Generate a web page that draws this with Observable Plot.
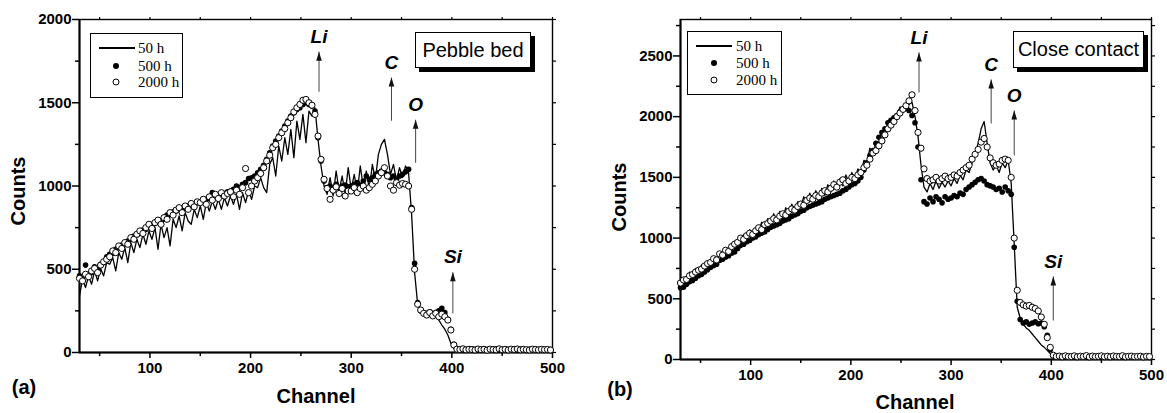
<!DOCTYPE html>
<html><head><meta charset="utf-8">
<script src="https://cdn.jsdelivr.net/npm/d3@7"></script>
<script src="https://cdn.jsdelivr.net/npm/@observablehq/plot@0.6"></script>
<style>
body{margin:0;background:#fff;}
#wrap{position:relative;width:1167px;height:413px;overflow:hidden;background:#fff;font-family:'Liberation Sans',Arial,sans-serif;color:#000;}
.panel{position:absolute;top:0;}
.lab{position:absolute;font-weight:bold;font-size:20px;line-height:20px;white-space:nowrap;transform:translate(-50%,-50%);}
.rot{transform:translate(-50%,-50%) rotate(-90deg);}
.box{position:absolute;border:1px solid #000;background:#fff;box-sizing:border-box;}
.shadow{position:absolute;background:#000;}
.legtxt{position:absolute;font-family:'Liberation Serif','Times New Roman',serif;font-size:15px;line-height:15px;transform:translateY(-50%);white-space:nowrap;}
.sym{position:absolute;box-sizing:border-box;border-radius:50%;transform:translate(-50%,-50%);}
.tag{position:absolute;border:1px solid #000;background:#fff;box-sizing:border-box;display:flex;align-items:center;justify-content:center;font-size:20px;white-space:nowrap;}
</style>
</head><body>
<div id="wrap"></div>
<script>
// ---------- data ----------
const channel = [30,33,36,39,42,45,48,51,54,57,
60,63,66,69,72,75,78,81,84,87,
90,93,96,99,102,105,108,111,114,117,
120,123,126,129,132,135,138,141,144,147,
150,153,156,159,162,165,168,171,174,177,
180,183,186,189,192,195,198,201,204,207,
210,213,216,219,222,225,228,231,234,237,
240,243,246,249,252,255,258,261,264,267,
270,273,276,279,282,285,288,291,294,297,
300,303,306,309,312,315,318,321,324,327,
330,333,336,339,342,345,348,351,354,357,
360,363,366,369,372,375,378,381,384,387,
390,393,396,399,402,405,408,411,414,417,
420,423,426,429,432,435,438,441,444,447,
450,453,456,459,462,465,468,471,474,477,
480,483,486,489,492,495,498];

// Panel (a) Pebble bed
const a50h = [340,440,390,460,410,490,430,505,460,540,
530,570,490,600,560,630,540,660,600,680,
630,710,650,730,680,750,620,770,690,750,
640,800,750,820,730,840,790,770,860,810,
880,800,900,850,910,860,920,860,930,880,
940,890,950,860,960,900,970,920,1000,990,
1050,990,960,1130,1170,1060,1240,1150,1290,1190,
1340,1170,1390,1280,1430,1260,1450,1420,1470,1280,
1120,1000,950,1050,940,1090,970,1060,950,1110,
980,1070,960,1120,990,1090,980,1130,1040,1190,
1250,1280,1190,1070,1130,1030,1110,1050,1120,1080,
830,480,290,245,230,210,220,205,215,195,
165,140,105,55,25,20,18,24,15,20,
16,22,14,19,25,13,20,17,23,15,
19,14,21,18,24,12,20,16,22,17,
14,21,18,15,20,19,16];
const a500h = [460,445,525,470,480,515,500,530,540,575,
590,595,620,630,645,650,670,680,700,705,
720,735,740,760,770,775,785,790,800,825,
830,845,850,860,865,870,880,885,890,900,
905,915,920,925,960,935,940,950,955,965,
970,980,1000,990,1010,1020,1045,1050,1060,1080,
1100,1125,1160,1200,1240,1270,1300,1330,1360,1390,
1420,1440,1460,1470,1490,1500,1490,1480,1450,1290,
1150,1030,990,1000,985,1010,990,1000,1005,995,
1000,1010,1020,1005,1030,1060,1040,1050,1070,1080,
1090,1080,1070,1050,1060,1040,1060,1070,1085,1100,
870,535,300,250,240,235,245,230,240,250,
265,240,200,140,50,22,18,20,17,19,
20,17,19,16,21,18,15,19,20,17,
16,20,18,17,19,15,21,18,16,19,
17,20,18,16,19,17,18];
const a2000h = [445,430,470,455,490,505,480,525,545,560,
575,610,600,640,625,660,650,690,680,710,
730,715,750,770,745,780,795,770,810,800,
840,825,855,870,840,880,860,895,875,905,
900,920,890,935,915,950,925,960,940,955,
965,935,975,950,990,1105,960,1000,1030,1050,
1075,1110,1150,1185,1230,1250,1290,1320,1345,1380,
1410,1445,1470,1490,1515,1520,1500,1485,1430,1300,
1160,1040,985,920,975,995,955,985,940,970,
970,990,960,985,1000,975,990,1010,1030,1060,
1080,1110,1060,1000,975,1020,1005,1015,1010,1000,
860,500,290,255,235,225,240,220,235,215,
230,215,195,135,45,20,18,22,16,19,
18,15,21,17,19,14,20,18,16,22,
17,19,15,20,18,21,16,19,17,15,
20,18,16,19,17,18,15];

// Panel (b) Close contact
const b50h = [610,670,640,720,680,750,720,780,750,810,
780,850,800,880,840,910,870,940,900,970,
960,1030,980,1070,1010,1090,1050,1130,1080,1160,
1110,1200,1140,1220,1160,1250,1200,1280,1220,1300,
1250,1340,1290,1370,1300,1390,1330,1410,1350,1440,
1380,1470,1410,1490,1430,1520,1460,1540,1480,1570,
1530,1640,1620,1740,1690,1790,1790,1870,1860,1950,
1940,2010,2000,2080,2040,2110,2100,2120,2000,1840,
1600,1420,1380,1450,1400,1470,1410,1460,1420,1470,
1430,1490,1450,1520,1480,1560,1540,1620,1700,1780,
1900,1960,1780,1620,1560,1600,1540,1620,1580,1640,
1450,950,430,340,290,260,240,210,180,150,
120,100,75,50,25,22,20,25,22,20,
20,28,18,25,22,30,17,26,21,24,
29,19,23,27,18,25,22,28,19,24,
26,20,23,25,18,22,20];
const b500h = [590,595,620,640,650,670,690,700,720,740,
760,775,785,815,825,845,855,875,885,915,
940,950,970,980,1000,1010,1030,1040,1050,1070,
1090,1100,1110,1120,1140,1150,1160,1180,1190,1200,
1220,1230,1250,1260,1270,1280,1290,1300,1320,1330,
1340,1350,1360,1370,1390,1400,1420,1440,1450,1470,
1500,1560,1620,1680,1720,1780,1830,1870,1900,1950,
1970,1990,2010,2040,2060,2070,2050,2010,1950,1750,
1480,1300,1280,1330,1300,1340,1320,1290,1340,1320,
1330,1350,1340,1370,1360,1400,1420,1440,1460,1480,
1490,1470,1440,1430,1420,1400,1410,1380,1420,1390,
1360,925,480,330,300,310,290,300,310,295,
300,270,200,80,30,22,25,20,24,22,
22,26,20,24,23,27,19,25,22,24,
26,21,24,20,25,23,22,27,20,23,
25,21,23,24,20,22,21];
const b2000h = [630,655,660,690,700,720,735,745,770,790,
800,830,820,870,860,900,890,930,950,965,
1000,990,1020,1040,1030,1060,1085,1070,1110,1120,
1140,1160,1150,1180,1200,1190,1220,1240,1230,1260,
1280,1270,1310,1330,1320,1350,1340,1370,1390,1380,
1410,1440,1420,1460,1480,1450,1470,1500,1490,1520,
1540,1580,1600,1650,1700,1720,1760,1800,1850,1900,
1930,1960,2000,2030,2060,2090,2130,2180,2050,1870,
1740,1570,1490,1470,1480,1500,1470,1490,1510,1490,
1500,1520,1510,1540,1560,1580,1600,1650,1690,1730,
1790,1820,1750,1660,1620,1600,1610,1640,1650,1640,
1500,1000,570,470,450,440,445,430,420,400,
350,290,180,100,35,25,28,22,30,24,
24,30,22,27,25,32,21,28,24,26,
30,23,27,22,29,25,24,31,22,26,
28,23,25,27,21,26,24];

// Axis ticks
const xMajor = [100,200,300,400,500];
const xMinor = [50,150,250,350,450];
const xTop = [50,100,150,200,250,300,350,400,450,500];
const yMajorA = [0,500,1000,1500,2000];
const yMinorA = [250,750,1250,1750];
const yMajorB = [0,500,1000,1500,2000,2500];
const yMinorB = [250,750,1250,1750,2250,2750];

// Peak annotations
const peakLabels = ["Li","C","O","Si"];
const peakChA = [268,340,364,401];
const peakBaseA = [1566,1392,1139,235];
const peakTipA = [1807,1651,1398,482];
const peakChB = [268,340,363,402];
const peakBaseB = [2199,1944,1680,321];
const peakTipB = [2529,2306,2051,684];

const legendLabels = ["50 h","500 h","2000 h"];

// ---------- drawing ----------
const FONT = "'Liberation Sans', Arial, sans-serif";
const headSymbol = {draw(ctx){ ctx.moveTo(0,0); ctx.lineTo(2.8,9); ctx.lineTo(-2.8,9); ctx.closePath(); }};

function makePanel(o){
  const rows = channel.map((c,i)=>({ch:c, l:o.line[i], d:o.dots[i], c2:o.circles[i]}));
  const peaks = peakLabels.map((t,i)=>({t, ch:o.pch[i], y1:o.pbase[i], y2:o.ptip[i]}));
  const yR = o.yMajor.concat(o.yMinor);
  return Plot.plot({
    width:o.width, height:413,
    marginLeft:o.ml, marginRight:o.mr, marginTop:o.mt, marginBottom:o.mb,
    x:{domain:[30,500]},
    y:{domain:[0,o.ymax]},
    style:{fontFamily:FONT, fontSize:"15px", fontWeight:"bold", color:"black", background:"transparent", overflow:"visible"},
    marks:[
      Plot.axisX({ticks:xMajor, tickSize:6, tickPadding:4, tickFormat:"d", label:null, strokeWidth:1.5}),
      Plot.axisX({ticks:xMinor, tickSize:4, fill:"none", label:null, strokeWidth:1.5}),
      Plot.axisX({anchor:"top", ticks:xTop, tickSize:3, fill:"none", label:null, strokeWidth:1.2}),
      Plot.axisY({ticks:o.yMajor, tickSize:7, tickPadding:1, tickFormat:"d", label:null, strokeWidth:1.5}),
      Plot.axisY({ticks:o.yMinor, tickSize:4, fill:"none", label:null, strokeWidth:1.5}),
      Plot.axisY({anchor:"right", ticks:yR, tickSize:3, fill:"none", label:null, strokeWidth:1.2}),
      Plot.frame({stroke:"black", strokeWidth:1.4}),
      Plot.ruleX([30], {stroke:"black", strokeWidth:2}),
      Plot.ruleY([0], {stroke:"black", strokeWidth:2}),
      Plot.line(rows, {x:"ch", y:"l", stroke:"black", strokeWidth:1.3}),
      Plot.dot(rows, {x:"ch", y:"d", r:2.8, fill:"black"}),
      Plot.dot(rows, {x:"ch", y:"c2", r:3.1, fill:"white", stroke:"black", strokeWidth:1}),
      Plot.link(peaks, {x1:"ch", x2:"ch", y1:"y1", y2:"y2", stroke:"#444", strokeWidth:1}),
      Plot.dot(peaks, {x:"ch", y:"y2", symbol:headSymbol, fill:"#111", stroke:"none"}),
      Plot.text(peaks, {x:"ch", y:"y2", text:"t", dy:-15, fontSize:19, fontStyle:"italic", fontWeight:"bold", fill:"black"})
    ]
  });
}

const wrap = document.getElementById("wrap");

const pa = makePanel({width:590, ml:79, mr:38, mt:19, mb:61, ymax:2000,
  yMajor:yMajorA, yMinor:yMinorA, line:a50h, dots:a500h, circles:a2000h,
  pch:peakChA, pbase:peakBaseA, ptip:peakTipA});
pa.classList.add("panel"); pa.style.left = "0px";
wrap.appendChild(pa);

const pb = makePanel({width:577, ml:90, mr:16, mt:19, mb:54, ymax:2800,
  yMajor:yMajorB, yMinor:yMinorB, line:b50h, dots:b500h, circles:b2000h,
  pch:peakChB, pbase:peakBaseB, ptip:peakTipB});
pb.classList.add("panel"); pb.style.left = "590px";
wrap.appendChild(pb);

function el(cls, css, text){
  const d = document.createElement("div");
  d.className = cls;
  Object.assign(d.style, css);
  if (text != null) d.textContent = text;
  wrap.appendChild(d);
  return d;
}

// axis titles and panel letters
el("lab rot", {left:"18px", top:"191px"}, "Counts");
el("lab rot", {left:"619px", top:"197px"}, "Counts");
el("lab", {left:"316px", top:"396px"}, "Channel");
el("lab", {left:"915px", top:"402px"}, "Channel");
el("lab", {left:"24px", top:"387px"}, "(a)");
el("lab", {left:"620px", top:"389px"}, "(b)");

// legends
function legend(bx, by, bw, bh, lineX, lineW, symX, textX, rowY){
  el("box", {left:bx+"px", top:by+"px", width:bw+"px", height:bh+"px"});
  el("", {position:"absolute", left:lineX+"px", top:(rowY[0]-1)+"px", width:lineW+"px", height:"2px", background:"#000"});
  el("sym", {left:symX+"px", top:rowY[1]+"px", width:"6px", height:"6px", background:"#000"});
  el("sym", {left:symX+"px", top:rowY[2]+"px", width:"7px", height:"7px", background:"#fff", border:"1px solid #000"});
  legendLabels.forEach((t,i)=> el("legtxt", {left:textX+"px", top:rowY[i]+"px"}, t));
}
legend(90, 33, 93, 65, 99, 36, 116, 138, [48, 66, 82]);
legend(687, 31, 95, 64, 696, 36, 714, 736, [46, 63, 80]);

// condition tags with shadow
el("shadow", {left:"419px", top:"36px", width:"116px", height:"36px"});
el("tag", {left:"415px", top:"32px", width:"116px", height:"36px"}, "Pebble bed");
el("shadow", {left:"1017px", top:"35px", width:"131px", height:"37px"});
el("tag", {left:"1013px", top:"31px", width:"131px", height:"37px"}, "Close contact");
</script>
</body></html>
